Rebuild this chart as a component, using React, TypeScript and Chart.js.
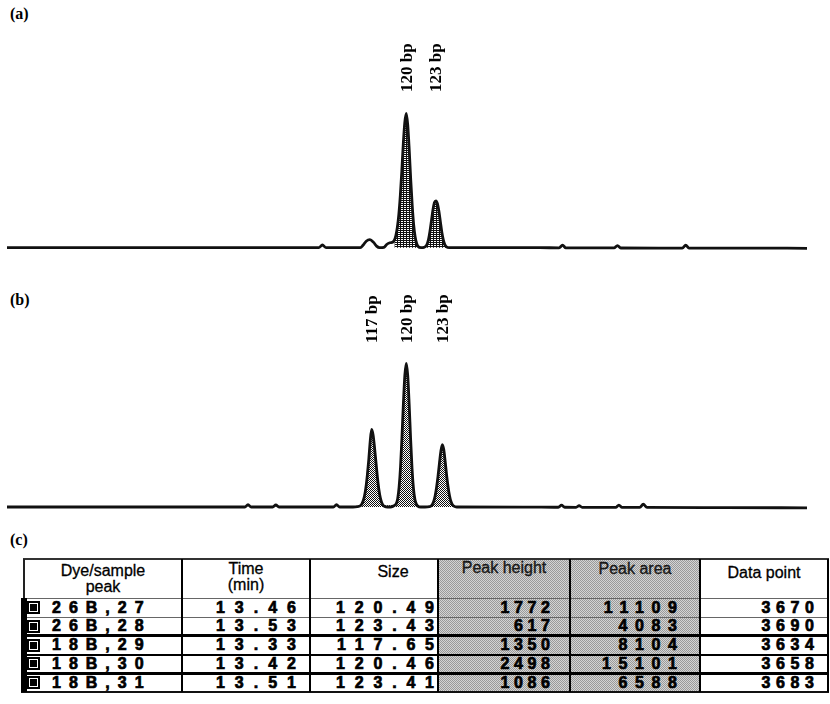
import React, { useEffect, useRef } from "react";
import { Chart, registerables } from "chart.js";

Chart.register(...registerables);

// ---------------- Table (c) data ----------------
const tableHeaders: string[][] = [
  ["Dye/sample", "peak"],
  ["Time", "(min)"],
  ["Size"],
  ["Peak height"],
  ["Peak area"],
  ["Data point"],
];
const dyeSamplePeaks = ["26B,27", "26B,28", "18B,29", "18B,30", "18B,31"];
const timesMin = ["13.46", "13.53", "13.33", "13.42", "13.51"];
const sizesBp = ["120.49", "123.43", "117.65", "120.46", "123.41"];
const peakHeights = [1772, 617, 1350, 2498, 1086];
const peakAreas = [11109, 4083, 8104, 15101, 6588];
const dataPoints = [3670, 3690, 3634, 3658, 3683];

// ---------------- Peak labels ----------------
const labelsA = ["120 bp", "123 bp"];
const labelsB = ["117 bp", "120 bp", "123 bp"];
const peaksA = dataPoints.slice(0, 2);
const peaksB = dataPoints.slice(2);

// ---------------- Traces: [data point (scan), signal] ----------------
const traceA: number[][] = [
  [3401, 0], [3450, 0], [3500, 0], [3550, 0], [3600, 0], [3611, 0], [3613.5, 35], [3616, 0],
  [3630, 0], [3639, 0], [3641, 35], [3643, 85], [3645.5, 105], [3648, 70], [3650, 20], [3652, 0],
  [3655, 5], [3657, 45], [3659, 65], [3661, 75], [3662, 100], [3663, 160], [3664, 270], [3665, 440],
  [3666, 690], [3667, 1010], [3668, 1370], [3669, 1650], [3670, 1772], [3671, 1620], [3672, 1290],
  [3673, 900], [3674, 560], [3675, 300], [3676, 140], [3677, 55], [3678, 15], [3680, 0], [3682, 5],
  [3683, 15], [3684, 45], [3685, 110], [3686, 220], [3687, 360], [3688, 500], [3689, 595], [3690, 617],
  [3691, 580], [3692, 480], [3693, 340], [3694, 200], [3695, 100], [3696, 40], [3697, 12], [3699, 0],
  [3720, 0], [3760, 0], [3773, -2], [3775.3, 33], [3777.5, -2], [3800, -3], [3810, -3], [3812.3, 28],
  [3814.5, -4], [3840, -5], [3856, -5], [3858.3, 32], [3860.5, -6], [3900, -6], [3940, -8],
];

const traceB: number[][] = [
  [3381, 0], [3450, 0], [3520, 0], [3546, 0], [3548.2, 40], [3550.4, 0], [3565.3, 0], [3567.5, 35],
  [3569.7, 0], [3590, 0], [3607.4, 0], [3609.6, 40], [3611.8, 0], [3621, 0], [3624, 5], [3626, 20],
  [3627, 45], [3628, 100], [3629, 190], [3630, 340], [3631, 560], [3632, 830], [3633, 1150], [3634, 1350],
  [3635, 1250], [3636, 1030], [3637, 770], [3638, 510], [3639, 300], [3640, 160], [3641, 75], [3642, 30],
  [3643, 10], [3645, 0], [3647, 0], [3649, 15], [3650, 30], [3651, 55], [3652, 140], [3653, 340],
  [3654, 690], [3655, 1210], [3656, 1800], [3657, 2290], [3658, 2498], [3659, 2290], [3660, 1790],
  [3661, 1190], [3662, 670], [3663, 320], [3664, 130], [3665, 50], [3666, 15], [3668, 0], [3671, 0],
  [3674, 5], [3675, 15], [3676, 40], [3677, 95], [3678, 190], [3679, 340], [3680, 530], [3681, 760],
  [3682, 970], [3683, 1086], [3684, 1000], [3685, 790], [3686, 550], [3687, 350], [3688, 195], [3689, 95],
  [3690, 40], [3691, 15], [3693, 0], [3740, -3], [3763.5, -4], [3765.7, 32], [3767.9, -4], [3775.8, -5],
  [3777.9, 22], [3780, -5], [3803.3, -6], [3805.5, 32], [3807.7, -6], [3820, -7], [3822.4, 48], [3825, -7],
  [3880, -10], [3936, -15],
];

// ---------------- helpers ----------------
function makePattern(kind: "grid" | "checker"): CanvasPattern | string {
  const c = document.createElement("canvas");
  const w = kind === "grid" ? 3 : 2;
  const h = 2;
  c.width = w;
  c.height = h;
  const g = c.getContext("2d");
  if (!g) return "#666";
  g.fillStyle = "#ffffff";
  g.fillRect(0, 0, w, h);
  g.fillStyle = "#111111";
  if (kind === "grid") {
    g.fillRect(0, 0, 3, 1);
    g.fillRect(0, 1, 1, 1);
  } else {
    g.fillRect(0, 0, 1, 1);
    g.fillRect(1, 1, 1, 1);
  }
  const p = g.createPattern(c, "repeat");
  return p || "#666";
}

type PanelProps = {
  trace: number[][];
  peaks: number[];
  labels: string[];
  xRange: [number, number];
  yRange: [number, number];
  left: number;
  top: number;
  width: number;
  height: number;
  labelBottom: number;
  patternKind: "grid" | "checker";
};

function TracePanel(props: PanelProps) {
  const ref = useRef<HTMLCanvasElement>(null);
  useEffect(() => {
    const canvas = ref.current;
    if (!canvas) return;
    const pattern = makePattern(props.patternKind);
    const fillPts = props.trace.filter(([x]) => props.peaks.some((p) => Math.abs(x - p) <= 8.5));
    const labelPlugin = {
      id: "peakLabels",
      afterDatasetsDraw(chart: any) {
        const ctx = chart.ctx as CanvasRenderingContext2D;
        const xs = chart.scales.x;
        ctx.save();
        ctx.fillStyle = "#000";
        ctx.font = "bold 17px 'Liberation Serif', 'Times New Roman', serif";
        ctx.textAlign = "left";
        ctx.textBaseline = "middle";
        props.labels.forEach((lab, i) => {
          const px = xs.getPixelForValue(props.peaks[i]);
          ctx.save();
          ctx.translate(px + 1, props.labelBottom);
          ctx.rotate(-Math.PI / 2);
          ctx.fillText(lab, 0, 0);
          ctx.restore();
        });
        ctx.restore();
      },
    };
    const chart = new Chart(canvas, {
      type: "line",
      data: {
        datasets: [
          {
            data: props.trace.map(([x, y]) => ({ x, y })),
            borderColor: "#111",
            borderWidth: 2.8,
            pointRadius: 0,
            fill: false,
            cubicInterpolationMode: "monotone",
            borderJoinStyle: "round",
            borderCapStyle: "round",
          } as any,
          {
            data: fillPts.map(([x, y]) => ({ x, y })),
            borderColor: "rgba(0,0,0,0)",
            borderWidth: 0,
            backgroundColor: pattern as any,
            pointRadius: 0,
            fill: "origin",
            cubicInterpolationMode: "monotone",
          } as any,
        ],
      },
      options: {
        animation: false,
        responsive: true,
        maintainAspectRatio: false,
        events: [],
        layout: { padding: 0 },
        scales: {
          x: { type: "linear", min: props.xRange[0], max: props.xRange[1], display: false },
          y: { type: "linear", min: props.yRange[0], max: props.yRange[1], display: false },
        },
        plugins: { legend: { display: false }, tooltip: { enabled: false } },
      },
      plugins: [labelPlugin],
    });
    return () => chart.destroy();
  }, []);
  return (
    <div
      style={{
        position: "absolute",
        left: props.left,
        top: props.top,
        width: props.width,
        height: props.height,
      }}
    >
      <canvas ref={ref} />
    </div>
  );
}

// ---------------- Table layout ----------------
const COL_X = [24, 182, 310, 438, 570, 700, 828];
const HEAD_TOP = 559;
const ROW_Y = [598, 617, 635.5, 654.5, 673, 692];
const HEAD_PAD = [4, 2, 5, 1, 2, 6];
const HEAD_SHIFT = [0, 0, 19, 0, 0, 0];
const CELL_LS = [8, 10, 9.8, 4.6, 7.6, 5.6];
const CELL_PR = [0, 14, 4, 20, 23, 14];
const ROW_LINES = [
  { w: 1, c: "#666" },
  { w: 3, c: "#000" },
  { w: 2, c: "#000" },
  { w: 3, c: "#000" },
  { w: 2, c: "#111" },
];

function DataTable() {
  const sans = "'Liberation Sans', Arial, Helvetica, sans-serif";
  const rows = dyeSamplePeaks.map((d, i) => [
    d,
    timesMin[i],
    sizesBp[i],
    String(peakHeights[i]),
    String(peakAreas[i]),
    String(dataPoints[i]),
  ]);
  const els: React.ReactNode[] = [];
  els.push(
    <div
      key="shade"
      style={{
        position: "absolute",
        left: COL_X[3],
        top: HEAD_TOP,
        width: COL_X[5] - COL_X[3],
        height: ROW_Y[5] - HEAD_TOP,
        background: "repeating-conic-gradient(#9a9a9a 0 25%, #d4d4d4 0 50%) 0 0 / 2px 2px",
      }}
    />
  );
  tableHeaders.forEach((h, i) => {
    els.push(
      <div
        key={"h" + i}
        style={{
          position: "absolute",
          left: COL_X[i] + HEAD_SHIFT[i],
          top: HEAD_TOP + HEAD_PAD[i],
          width: COL_X[i + 1] - COL_X[i],
          textAlign: "center",
          font: `16px ${sans}`,
          lineHeight: "16px",
          color: i === 3 || i === 4 ? "#222" : "#000",
          WebkitTextStroke: "0.3px #000",
        }}
      >
        {h.map((t, k) => (
          <div key={k}>{t}</div>
        ))}
      </div>
    );
  });
  rows.forEach((r, ri) => {
    const top = ROW_Y[ri];
    const h = ROW_Y[ri + 1] - ROW_Y[ri];
    r.forEach((v, ci) => {
      const ls = CELL_LS[ci];
      els.push(
        <div
          key={`c${ri}-${ci}`}
          style={{
            position: "absolute",
            left: COL_X[ci],
            top,
            width: COL_X[ci + 1] - COL_X[ci],
            height: h,
            display: "flex",
            alignItems: "center",
            justifyContent: ci === 0 ? "flex-start" : "flex-end",
            boxSizing: "border-box",
            paddingLeft: ci === 0 ? 28 : 0,
            paddingRight: CELL_PR[ci],
            font: `bold 16px ${sans}`,
            lineHeight: "16px",
            color: "#000",
            WebkitTextStroke: "0.7px #000",
          }}
        >
          <span style={{ letterSpacing: ls, marginRight: ci === 0 ? 0 : -ls, whiteSpace: "nowrap" }}>{v}</span>
        </div>
      );
    });
    els.push(
      <div
        key={"icon" + ri}
        style={{
          position: "absolute",
          left: 27,
          top: top + h / 2 - 6.5,
          width: 13,
          height: 13,
          boxSizing: "border-box",
          background: "#000",
          border: "2px solid #000",
          boxShadow: "inset 0 0 0 1px #fff",
        }}
      />
    );
  });
  els.push(
    <div key="top" style={{ position: "absolute", left: 23, top: HEAD_TOP - 1, width: 806, height: 2, background: "#333" }} />
  );
  els.push(
    <div key="hb" style={{ position: "absolute", left: 25, top: ROW_Y[0] - 0.5, width: 803, height: 1, background: "#666" }} />
  );
  ROW_LINES.forEach((ln, i) => {
    els.push(
      <div
        key={"rl" + i}
        style={{
          position: "absolute",
          left: 21,
          top: ROW_Y[i + 1] - ln.w / 2,
          width: 808,
          height: ln.w,
          background: ln.c,
        }}
      />
    );
  });
  for (let i = 1; i < COL_X.length; i++) {
    els.push(
      <div
        key={"v" + i}
        style={{
          position: "absolute",
          left: COL_X[i] - 1,
          top: HEAD_TOP,
          width: 2,
          height: ROW_Y[5] - HEAD_TOP,
          background: "#000",
        }}
      />
    );
  }
  els.push(
    <div key="lh" style={{ position: "absolute", left: 23, top: HEAD_TOP, width: 2, height: ROW_Y[0] - HEAD_TOP, background: "#222" }} />
  );
  els.push(
    <div key="lr" style={{ position: "absolute", left: 21, top: ROW_Y[0], width: 6, height: ROW_Y[5] - ROW_Y[0], background: "#000" }} />
  );
  return <>{els}</>;
}

const panelLabelStyle: React.CSSProperties = {
  position: "absolute",
  left: 10,
  font: "bold 16px 'Liberation Serif', 'Times New Roman', serif",
  lineHeight: "16px",
  color: "#000",
};

export default function App() {
  return (
    <div
      style={{
        position: "absolute",
        left: 0,
        top: 0,
        width: 830,
        height: 704,
        background: "#fff",
        overflow: "hidden",
      }}
    >
      <div style={{ ...panelLabelStyle, top: 6 }}>(a)</div>
      <div style={{ ...panelLabelStyle, top: 292 }}>(b)</div>
      <div style={{ ...panelLabelStyle, top: 532 }}>(c)</div>
      <TracePanel
        trace={traceA}
        peaks={peaksA}
        labels={labelsA}
        xRange={[3401, 3940]}
        yRange={[-57, 2870]}
        left={7}
        top={30}
        width={800}
        height={222}
        labelBottom={62}
        patternKind="grid"
      />
      <TracePanel
        trace={traceB}
        peaks={peaksB}
        labels={labelsB}
        xRange={[3381, 3936]}
        yRange={[-87, 3861]}
        left={7}
        top={285}
        width={800}
        height={227}
        labelBottom={58}
        patternKind="checker"
      />
      <DataTable />
    </div>
  );
}
